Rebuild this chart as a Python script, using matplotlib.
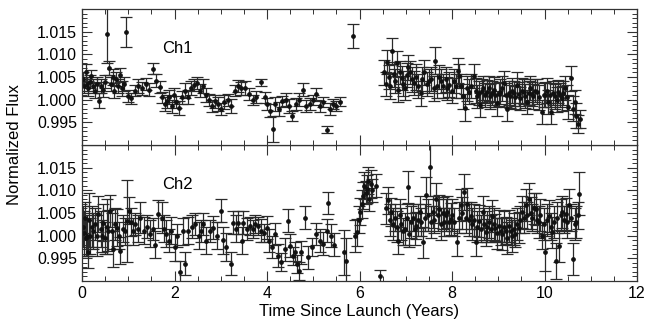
import matplotlib
matplotlib.use("Agg")
import matplotlib.pyplot as plt
from matplotlib.ticker import MultipleLocator

plt.rcParams['font.family'] = ['Liberation Sans', 'DejaVu Sans']

# ---------------- Ch1 data (time [yr], normalized flux, 1-sigma error) ----------------
ch1_t = [0.02, 0.05, 0.08, 0.11, 0.14, 0.17, 0.20, 0.24, 0.28, 0.32, 0.37, 0.41, 0.45, 0.50,
         0.54, 0.58, 0.62, 0.66, 0.70, 0.74, 0.78, 0.82, 0.86, 0.90, 0.95, 1.00, 1.05, 1.15,
         1.22, 1.30, 1.38, 1.45, 1.54, 1.60, 1.68, 1.74, 1.79, 1.84, 1.89, 1.94, 1.99, 2.04,
         2.09, 2.16, 2.23, 2.29, 2.36, 2.43, 2.49, 2.55, 2.62, 2.69, 2.75, 2.81, 2.88, 2.95,
         3.01, 3.08, 3.15, 3.22, 3.30, 3.37, 3.44, 3.53, 3.61, 3.69, 3.77, 3.88, 3.95, 4.01,
         4.07, 4.12, 4.18, 4.25, 4.32, 4.40, 4.47, 4.55, 4.62, 4.70, 4.78, 4.85, 4.92, 5.00,
         5.07, 5.14, 5.21, 5.30, 5.36, 5.43, 5.50, 5.57, 5.86,
         6.53, 6.57, 6.60, 6.63, 6.67, 6.70, 6.74, 6.77, 6.80, 6.84, 6.88, 6.91, 6.95, 6.98,
         7.02, 7.05, 7.09, 7.13, 7.18, 7.22, 7.26, 7.32, 7.36, 7.40, 7.45, 7.50, 7.55, 7.60,
         7.64, 7.68, 7.72, 7.76, 7.81, 7.86, 7.90, 7.94, 7.99, 8.04, 8.08, 8.12, 8.16, 8.20,
         8.23, 8.28, 8.32, 8.36, 8.41, 8.47, 8.51, 8.54, 8.58, 8.61, 8.65, 8.68, 8.72, 8.76,
         8.80, 8.83, 8.87, 8.90, 8.94, 8.97, 9.01, 9.04, 9.08, 9.12, 9.16, 9.19, 9.23, 9.26,
         9.30, 9.33, 9.37, 9.40, 9.44, 9.48, 9.51, 9.55, 9.58, 9.62, 9.66, 9.69, 9.73, 9.76,
         9.80, 9.84, 9.88, 9.94, 9.98, 10.01, 10.05, 10.08, 10.12, 10.15, 10.19, 10.22, 10.26,
         10.30, 10.34, 10.37, 10.41, 10.44, 10.48, 10.51, 10.57, 10.62, 10.66, 10.68, 10.73, 10.77]
ch1_f = [1.0045, 1.0030, 1.0060, 1.0035, 1.0025, 1.0040, 1.0052, 1.0030, 1.0020, 1.0035, 0.9998, 1.0030, 1.0022, 1.0040,
         1.0145, 1.0070, 1.0035, 1.0050, 1.0020, 1.0045, 1.0030, 1.0055, 1.0025, 1.0035, 1.0150, 1.0008, 1.0003, 1.0020,
         1.0030, 1.0025, 1.0035, 1.0022, 1.0068, 1.0042, 1.0028, 1.0005, 0.9990, 0.9996, 1.0006, 0.9985, 1.0010, 0.9995,
         0.9982, 1.0005, 1.0020, 1.0006, 1.0026, 1.0032, 1.0036, 1.0020, 1.0030, 1.0010, 1.0000, 0.9986, 0.9996, 0.9990,
         0.9980, 0.9995, 1.0000, 0.9986, 1.0020, 1.0030, 1.0025, 1.0026, 1.0012, 1.0000, 1.0006, 1.0038, 1.0005, 0.9990,
         0.9976, 0.9935, 0.9990, 0.9980, 0.9996, 1.0000, 0.9986, 0.9965, 0.9990, 1.0000, 1.0022, 0.9986, 0.9990, 1.0000,
         1.0012, 0.9985, 0.9995, 0.9934, 0.9980, 0.9990, 0.9985, 0.9995, 1.0140,
         1.0060, 1.0035, 1.0083, 1.0050, 1.0030, 1.0108, 1.0056, 1.0041, 1.0080, 1.0022, 1.0060, 1.0048, 1.0035, 1.0026,
         1.0055, 1.0071, 1.0060, 1.0045, 1.0037, 1.0050, 1.0030, 1.0014, 1.0045, 1.0060, 1.0035, 1.0041, 1.0045, 1.0025,
         1.0086, 1.0030, 1.0050, 1.0041, 1.0030, 1.0045, 1.0025, 1.0033, 1.0020, 1.0041, 1.0030, 1.0064, 1.0052, 1.0030,
         1.0007, 0.9982, 1.0025, 1.0018, 1.0030, 1.0052, 1.0020, 1.0007, 1.0015, 0.9988, 1.0020, 1.0026, 1.0010, 1.0018,
         1.0025, 1.0007, 1.0015, 1.0022, 1.0010, 0.9992, 1.0012, 1.0018, 1.0025, 1.0037, 1.0010, 0.9980, 1.0015, 1.0007,
         1.0020, 1.0014, 1.0005, 1.0033, 1.0012, 1.0003, 1.0020, 1.0018, 1.0008, 0.9995, 1.0015, 1.0026, 1.0012, 1.0007,
         1.0020, 1.0018, 1.0005, 0.9973, 1.0010, 1.0011, 1.0020, 0.9995, 1.0010, 0.9973, 1.0015, 1.0007, 1.0000,
         1.0018, 1.0010, 1.0003, 1.0015, 1.0026, 1.0005, 0.9984, 1.0047, 0.9980, 0.9995, 0.9965, 0.9946, 0.9958]
ch1_e = [0.0015, 0.0016, 0.0018, 0.0015, 0.0016, 0.0015, 0.0014, 0.0015, 0.0016, 0.0015, 0.0017, 0.0015, 0.0016, 0.0015,
         0.0065, 0.0016, 0.0015, 0.0018, 0.0016, 0.0015, 0.0015, 0.0015, 0.0016, 0.0015, 0.0033, 0.0013, 0.0012, 0.0013,
         0.0015, 0.0015, 0.0013, 0.0015, 0.0012, 0.0015, 0.0013, 0.0013, 0.0015, 0.0014, 0.0016, 0.0015, 0.0015, 0.0013,
         0.0015, 0.0015, 0.0016, 0.0015, 0.0015, 0.0013, 0.0013, 0.0015, 0.0015, 0.0015, 0.0013, 0.0013, 0.0015, 0.0015,
         0.0013, 0.0015, 0.0013, 0.0015, 0.0013, 0.0013, 0.0015, 0.0015, 0.0013, 0.0011, 0.0013, 0.0007, 0.0013, 0.0013,
         0.0015, 0.0028, 0.0015, 0.0015, 0.0013, 0.0015, 0.0015, 0.0011, 0.0013, 0.0015, 0.0015, 0.0013, 0.0013, 0.0011,
         0.0013, 0.0013, 0.0011, 0.0008, 0.0013, 0.0011, 0.0011, 0.0010, 0.0027,
         0.0028, 0.0027, 0.0027, 0.0026, 0.0028, 0.0029, 0.0027, 0.0026, 0.0027, 0.0027, 0.0026, 0.0027, 0.0028, 0.0027,
         0.0026, 0.0027, 0.0026, 0.0027, 0.0027, 0.0028, 0.0027, 0.0027, 0.0026, 0.0027, 0.0027, 0.0027, 0.0026, 0.0027,
         0.0030, 0.0027, 0.0027, 0.0026, 0.0027, 0.0027, 0.0026, 0.0027, 0.0027, 0.0027, 0.0026, 0.0027, 0.0027, 0.0026,
         0.0027, 0.0030, 0.0027, 0.0027, 0.0026, 0.0027, 0.0027, 0.0026, 0.0027, 0.0027, 0.0026, 0.0027, 0.0027, 0.0026,
         0.0027, 0.0027, 0.0026, 0.0027, 0.0027, 0.0027, 0.0026, 0.0027, 0.0027, 0.0027, 0.0026, 0.0027, 0.0027, 0.0026,
         0.0027, 0.0027, 0.0026, 0.0027, 0.0027, 0.0026, 0.0027, 0.0027, 0.0026, 0.0027, 0.0027, 0.0026, 0.0027, 0.0027,
         0.0026, 0.0027, 0.0027, 0.0027, 0.0026, 0.0027, 0.0027, 0.0026, 0.0027, 0.0027, 0.0026, 0.0027, 0.0027,
         0.0026, 0.0027, 0.0027, 0.0026, 0.0027, 0.0027, 0.0026, 0.0027, 0.0027, 0.0026, 0.0027, 0.0020, 0.0020]

# ---------------- Ch2 data ----------------
ch2_t = [0.02, 0.04, 0.06, 0.08, 0.10, 0.13, 0.15, 0.18, 0.21, 0.24, 0.28, 0.32, 0.35, 0.40,
         0.43, 0.46, 0.50, 0.54, 0.57, 0.61, 0.64, 0.68, 0.72, 0.75, 0.79, 0.83, 0.88, 0.93,
         0.97, 1.01, 1.06, 1.10, 1.15, 1.20, 1.26, 1.33, 1.40, 1.47, 1.53, 1.58, 1.65, 1.72,
         1.77, 1.82, 1.89, 1.93, 2.00, 2.06, 2.12, 2.18, 2.23, 2.30, 2.37, 2.45, 2.52, 2.57,
         2.62, 2.69, 2.77, 2.84, 2.91, 3.00, 3.05, 3.12, 3.22, 3.27, 3.33, 3.38, 3.45, 3.49,
         3.56, 3.63, 3.70, 3.74, 3.81, 3.88, 3.94, 3.99, 4.05, 4.10, 4.17, 4.24, 4.31, 4.38,
         4.46, 4.49, 4.56, 4.60, 4.64, 4.69, 4.74, 4.82, 4.89, 4.97, 5.07, 5.14, 5.21, 5.29,
         5.32, 5.38, 5.44, 5.66, 5.71, 5.90, 5.94, 5.98, 6.02, 6.05, 6.08, 6.10, 6.13, 6.16,
         6.18, 6.21, 6.24, 6.28, 6.35, 6.44,
         6.58, 6.62, 6.66, 6.69, 6.73, 6.76, 6.80, 6.83, 6.87, 6.90, 6.94, 6.98, 7.02, 7.05,
         7.08, 7.12, 7.15, 7.19, 7.22, 7.26, 7.30, 7.33, 7.37, 7.41, 7.44, 7.48, 7.52, 7.55,
         7.58, 7.62, 7.65, 7.69, 7.72, 7.76, 7.80, 7.83, 7.87, 7.90, 7.94, 7.97, 8.01, 8.05,
         8.11, 8.15, 8.19, 8.22, 8.26, 8.30, 8.33, 8.37, 8.40, 8.44, 8.47, 8.51, 8.55, 8.58,
         8.62, 8.66, 8.69, 8.73, 8.76, 8.80, 8.84, 8.87, 8.91, 8.94, 8.98, 9.01, 9.05, 9.09,
         9.12, 9.16, 9.19, 9.23, 9.27, 9.30, 9.34, 9.37, 9.41, 9.45, 9.48, 9.52, 9.55, 9.59,
         9.62, 9.66, 9.70, 9.74, 9.77, 9.81, 9.84, 9.88, 9.91, 9.95, 9.98, 10.02, 10.06, 10.10,
         10.13, 10.17, 10.20, 10.24, 10.28, 10.31, 10.35, 10.38, 10.42, 10.46, 10.49, 10.53,
         10.57, 10.62, 10.66, 10.68, 10.72, 10.75]
ch2_f = [1.0020, 1.0005, 1.0040, 0.9995, 1.0000, 0.9963, 1.0035, 1.0000, 1.0020, 1.0010, 1.0025, 1.0000, 1.0048, 1.0015,
         1.0000, 1.0029, 0.9995, 1.0020, 1.0011, 1.0055, 1.0010, 0.9971, 1.0025, 1.0018, 1.0000, 0.9967, 1.0015, 1.0010,
         1.0033, 1.0055, 1.0030, 1.0010, 1.0026, 1.0015, 1.0040, 1.0011, 1.0020, 1.0004, 1.0015, 0.9980, 1.0048, 1.0040,
         1.0015, 1.0004, 0.9989, 1.0011, 0.9974, 1.0000, 0.9920, 1.0010, 0.9938, 1.0011, 1.0020, 1.0026, 1.0000, 1.0010,
         1.0026, 0.9989, 1.0010, 1.0018, 1.0000, 1.0055, 0.9990, 0.9975, 0.9938, 1.0029, 1.0015, 1.0029, 0.9989, 1.0029,
         1.0015, 1.0022, 1.0015, 1.0026, 1.0022, 1.0011, 1.0005, 1.0018, 0.9989, 0.9975, 1.0004, 0.9956, 0.9942, 0.9970,
         1.0033, 0.9978, 0.9956, 0.9965, 0.9938, 0.9923, 0.9963, 1.0040, 0.9952, 0.9975, 1.0004, 0.9989, 0.9982, 1.0011,
         1.0072, 1.0000, 0.9980, 0.9963, 0.9945, 1.0000, 1.0007, 1.0035, 1.0053, 1.0070, 1.0088, 1.0110, 1.0095, 1.0103,
         1.0121, 1.0080, 1.0114, 1.0100, 1.0110, 0.9910,
         1.0060, 1.0078, 1.0035, 1.0052, 1.0025, 1.0040, 1.0020, 0.9989, 1.0045, 1.0026, 1.0010, 1.0015, 1.0040, 1.0107,
         1.0004, 1.0030, 1.0040, 1.0015, 1.0022, 1.0035, 1.0052, 1.0030, 0.9985, 1.0040, 1.0089, 1.0045, 1.0152, 1.0030,
         1.0052, 1.0035, 1.0081, 1.0045, 1.0059, 1.0025, 1.0050, 1.0030, 1.0045, 1.0052, 1.0030, 1.0037, 1.0045, 1.0030,
         0.9985, 1.0040, 1.0067, 1.0050, 1.0096, 1.0040, 1.0070, 1.0035, 1.0044, 1.0025, 1.0035, 0.9985, 1.0020, 1.0033,
         1.0015, 1.0052, 1.0025, 1.0007, 1.0020, 1.0030, 1.0015, 1.0044, 1.0025, 1.0018, 1.0005, 1.0022, 1.0010, 1.0004,
         1.0020, 1.0011, 0.9995, 1.0022, 1.0010, 1.0000, 1.0015, 1.0004, 1.0025, 1.0018, 1.0035, 1.0052, 1.0040, 1.0067,
         1.0045, 1.0081, 1.0050, 1.0040, 1.0060, 1.0059, 1.0035, 1.0030, 1.0045, 1.0000, 1.0025, 0.9963, 1.0035, 1.0044,
         1.0020, 1.0007, 1.0030, 0.9944, 1.0040, 0.9978, 1.0045, 1.0052, 1.0035, 1.0048, 1.0030, 1.0067,
         1.0040, 0.9948, 1.0025, 1.0030, 1.0045, 1.0093]
ch2_e = [0.0045, 0.0050, 0.0035, 0.0040, 0.0045, 0.0035, 0.0060, 0.0040, 0.0045, 0.0040, 0.0035, 0.0045, 0.0040, 0.0040,
         0.0035, 0.0040, 0.0035, 0.0060, 0.0045, 0.0035, 0.0040, 0.0040, 0.0035, 0.0040, 0.0030, 0.0030, 0.0030, 0.0030,
         0.0090, 0.0030, 0.0030, 0.0030, 0.0025, 0.0030, 0.0035, 0.0030, 0.0025, 0.0030, 0.0025, 0.0030, 0.0030, 0.0035,
         0.0030, 0.0030, 0.0025, 0.0030, 0.0030, 0.0025, 0.0025, 0.0030, 0.0025, 0.0030, 0.0025, 0.0025, 0.0030, 0.0025,
         0.0025, 0.0030, 0.0025, 0.0025, 0.0030, 0.0025, 0.0030, 0.0030, 0.0025, 0.0025, 0.0030, 0.0025, 0.0030, 0.0025,
         0.0025, 0.0020, 0.0020, 0.0020, 0.0020, 0.0025, 0.0020, 0.0025, 0.0025, 0.0025, 0.0025, 0.0025, 0.0020, 0.0025,
         0.0025, 0.0025, 0.0020, 0.0020, 0.0020, 0.0020, 0.0025, 0.0025, 0.0025, 0.0020, 0.0025, 0.0025, 0.0025, 0.0025,
         0.0025, 0.0025, 0.0025, 0.0050, 0.0050, 0.0035, 0.0030, 0.0030, 0.0030, 0.0030, 0.0030, 0.0030, 0.0025, 0.0030,
         0.0030, 0.0025, 0.0030, 0.0025, 0.0025, 0.0015,
         0.0035, 0.0030, 0.0035, 0.0030, 0.0035, 0.0030, 0.0035, 0.0030, 0.0035, 0.0035, 0.0030, 0.0035, 0.0030, 0.0035,
         0.0030, 0.0035, 0.0030, 0.0035, 0.0030, 0.0035, 0.0035, 0.0030, 0.0035, 0.0030, 0.0040, 0.0035, 0.0065, 0.0035,
         0.0035, 0.0030, 0.0035, 0.0035, 0.0030, 0.0035, 0.0035, 0.0030, 0.0035, 0.0035, 0.0030, 0.0035, 0.0035, 0.0030,
         0.0030, 0.0035, 0.0035, 0.0035, 0.0040, 0.0035, 0.0035, 0.0035, 0.0030, 0.0035, 0.0035, 0.0030, 0.0035, 0.0035,
         0.0030, 0.0035, 0.0035, 0.0030, 0.0035, 0.0035, 0.0030, 0.0035, 0.0035, 0.0030, 0.0035, 0.0035, 0.0030, 0.0035,
         0.0035, 0.0030, 0.0035, 0.0035, 0.0030, 0.0035, 0.0035, 0.0030, 0.0035, 0.0035, 0.0030, 0.0035, 0.0035, 0.0035,
         0.0030, 0.0035, 0.0035, 0.0030, 0.0035, 0.0035, 0.0030, 0.0035, 0.0035, 0.0030, 0.0035, 0.0040, 0.0035, 0.0035,
         0.0030, 0.0035, 0.0035, 0.0040, 0.0035, 0.0035, 0.0035, 0.0035, 0.0030, 0.0035, 0.0035, 0.0035,
         0.0030, 0.0035, 0.0035, 0.0035, 0.0030, 0.0048]

y_ticks = [0.995, 1.000, 1.005, 1.010, 1.015]
x_ticks = [0, 2, 4, 6, 8, 10, 12]
labels = ["Ch1", "Ch2"]

fig = plt.figure(figsize=(6.47, 3.24), dpi=100)
W, H = 647, 324
left = 82 / W
width = 555 / W
ph = 136 / H
bottom = 1 - 281 / H
ax2 = fig.add_axes([left, bottom, width, ph])
ax1 = fig.add_axes([left, bottom + ph, width, ph], sharex=ax2)

col = '#2a2a2a'
for ax, t, f, e, lab in [(ax1, ch1_t, ch1_f, ch1_e, labels[0]),
                         (ax2, ch2_t, ch2_f, ch2_e, labels[1])]:
    ax.errorbar(t, f, yerr=e, fmt='o', ms=2.4, color='#111111', ecolor=col,
                elinewidth=0.9, capsize=4.6, capthick=0.9, clip_on=True)
    ax.set_xlim(0, 12)
    ax.set_ylim(0.990, 1.020)
    ax.set_yticks(y_ticks)
    ax.set_yticklabels([f"{v:.3f}" for v in y_ticks])
    ax.yaxis.set_minor_locator(MultipleLocator(0.001))
    ax.xaxis.set_minor_locator(MultipleLocator(0.5))
    ax.tick_params(which='both', direction='in', top=True, right=True,
                   labelsize=11.5, color='#333333')
    ax.tick_params(which='major', length=7, width=0.8)
    ax.tick_params(which='minor', length=3.5, width=0.7)
    for s in ax.spines.values():
        s.set_linewidth(0.9)
        s.set_color('#333333')
    ax.text(1.73, 1.0112, lab, fontsize=12, ha='left', va='center')

ax2.set_xticks(x_ticks)
ax2.set_xticklabels([str(v) for v in x_ticks])
plt.setp(ax1.get_xticklabels(), visible=False)
ax2.set_xlabel("Time Since Launch (Years)", fontsize=12, labelpad=2)
fig.text(15 / W, 1 - 145 / H, "Normalized Flux", rotation=90, ha='center', va='center',
         fontsize=12)

fig.savefig("out.png", dpi=100)
